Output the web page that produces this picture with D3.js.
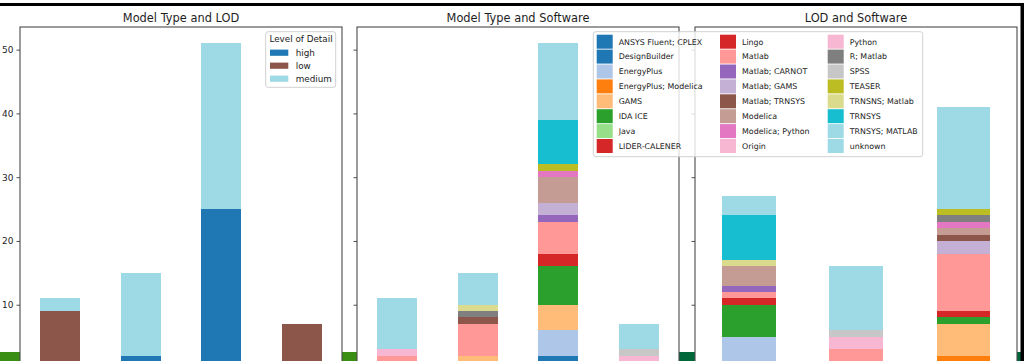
<!DOCTYPE html>
<html>
<head>
<meta charset="utf-8">
<script src="https://cdn.jsdelivr.net/npm/d3@7"></script>
<style>
  html, body { margin: 0; padding: 0; background: #fff; }
  svg { display: block; font-family: "DejaVu Sans", sans-serif; }
</style>
</head>
<body>
<svg id="chart" width="1024" height="361"></svg>
<script>
// ---- data ----
const modelTypes = ["data-driven", "grey-box", "physics-based", "statistical"];
const lodLevels = ["high", "low", "medium"];

// level of detail counts per model type
const lodHigh   = [0, 2, 25, 0];
const lodLow    = [9, 0, 0, 7];
const lodMedium = [2, 13, 26, 0];

const softwareNames = [
  "ANSYS Fluent; CPLEX", "DesignBuilder", "EnergyPlus", "EnergyPlus; Modelica",
  "GAMS", "IDA ICE", "Java", "LIDER-CALENER",
  "Lingo", "Matlab", "Matlab; CARNOT", "Matlab; GAMS",
  "Matlab; TRNSYS", "Modelica", "Modelica; Python", "Origin",
  "Python", "R; Matlab", "SPSS", "TEASER",
  "TRNSNS; Matlab", "TRNSYS", "TRNSYS; MATLAB", "unknown"
];

// software counts per model type (same order as softwareNames)
const swDataDriven   = [0,0,0,0, 0,0,1,0, 0,1,0,0, 0,0,0,1, 0,0,0,0, 0,0,0,8];
const swGreyBox      = [0,0,0,1, 1,0,0,0, 0,5,0,0, 1,0,0,0, 0,1,0,0, 1,0,1,4];
const swPhysicsBased = [1,1,4,0, 4,6,0,1, 1,5,1,2, 0,4,1,0, 0,0,0,1, 0,7,0,12];
const swStatistical  = [0,0,0,0, 0,0,0,0, 0,1,0,0, 0,0,0,0, 1,0,1,0, 0,0,0,4];

// software counts per level of detail (same order as softwareNames)
const swHigh   = [0,1,4,0, 0,5,0,1, 0,1,1,0, 0,3,0,0, 0,0,0,0, 1,7,0,3];
const swLow    = [0,0,0,0, 0,0,1,0, 0,2,0,0, 0,0,0,1, 1,0,1,0, 0,0,0,10];
const swMedium = [1,0,0,1, 5,1,0,0, 1,9,0,2, 1,1,1,0, 0,1,0,1, 0,0,1,15];

const yTicks = [10, 20, 30, 40, 50];

// ---- palette (tab20, sampled evenly like a listed colormap) ----
const tab20 = ["#1f77b4","#aec7e8","#ff7f0e","#ffbb78","#2ca02c","#98df8a","#d62728","#ff9896",
               "#9467bd","#c5b0d5","#8c564b","#c49c94","#e377c2","#f7b6d2","#7f7f7f","#c7c7c7",
               "#bcbd22","#dbdb8d","#17becf","#9edae5"];
const sampleTab20 = n => d3.range(n).map(i => tab20[Math.min(19, Math.floor(i / (n - 1) * 20))]);
const lodColor = d3.scaleOrdinal(lodLevels, sampleTab20(lodLevels.length));
const swColor = d3.scaleOrdinal(softwareNames, sampleTab20(softwareNames.length));

// ---- layout ----
const svg = d3.select("#chart");
const W = 1024, H = 361;
const plotTop = 27, plotBottom = 368.5;
const panels = [
  { x0: 20,  x1: 342,  title: "Model Type and LOD" },
  { x0: 357, x1: 679,  title: "Model Type and Software" },
  { x0: 695, x1: 1017, title: "LOD and Software" }
];
const y = d3.scaleLinear().domain([0, 51 * 1.05]).range([plotBottom, plotTop]);

svg.append("rect").attr("width", W).attr("height", H).attr("fill", "#fff");

// strips of the page background showing between the panels
const stripY = 352;
[[0, 20, "#3b8e14"], [342, 357, "#3b8e14"], [679, 695, "#00673a"], [1017, 1021, "#00673a"]]
  .forEach(([a, b, c]) => svg.append("rect").attr("x", a).attr("y", stripY)
    .attr("width", b - a).attr("height", H - stripY).attr("fill", c));

function rowsFrom(cats, keys, columns) {
  return cats.map((c, i) => {
    const row = { cat: c };
    keys.forEach((k, j) => row[k] = columns[j][i]);
    return row;
  });
}
function columnsFromCounts(countArrays) {
  // transpose: countArrays[category][key] -> columns[key][category]
  return softwareNames.map((_, k) => countArrays.map(arr => arr[k]));
}

function drawStacked(p, cats, keys, rows, color) {
  const x = d3.scaleBand().domain(cats).range([p.x0, p.x1])
    .paddingInner(0.5).paddingOuter(0.25);
  const series = d3.stack().keys(keys)(rows);
  const g = svg.append("g").attr("shape-rendering", "crispEdges");
  series.forEach(s => {
    g.selectAll(null).data(s.filter(d => d[1] > d[0])).enter().append("rect")
      .attr("x", d => x(d.data.cat))
      .attr("width", x.bandwidth())
      .attr("y", d => y(d[1]))
      .attr("height", d => y(d[0]) - y(d[1]))
      .attr("fill", color(s.key));
  });
}

// panel 1: model type by LOD
drawStacked(panels[0], modelTypes, lodLevels,
  rowsFrom(modelTypes, lodLevels, [lodHigh, lodLow, lodMedium]), lodColor);

// panel 2: model type by software
drawStacked(panels[1], modelTypes, softwareNames,
  rowsFrom(modelTypes, softwareNames, columnsFromCounts([swDataDriven, swGreyBox, swPhysicsBased, swStatistical])), swColor);

// panel 3: LOD by software
drawStacked(panels[2], lodLevels, softwareNames,
  rowsFrom(lodLevels, softwareNames, columnsFromCounts([swHigh, swLow, swMedium])), swColor);

// axes, frames and titles
panels.forEach((p, i) => {
  const axis = d3.axisLeft(y).tickValues(yTicks).tickSize(3.5).tickPadding(3);
  if (i > 0) axis.tickFormat("");
  const ag = svg.append("g").attr("transform", `translate(${p.x0},0)`).call(axis);
  ag.select(".domain").remove();
  ag.selectAll(".tick line").attr("stroke", "#3a3a3a").attr("stroke-width", 0.9);
  ag.selectAll(".tick text").attr("fill", "#262626").attr("font-size", 9)
    .attr("font-family", "DejaVu Sans");

  svg.append("rect").attr("x", p.x0).attr("y", plotTop)
    .attr("width", p.x1 - p.x0).attr("height", plotBottom - plotTop)
    .attr("fill", "none").attr("stroke", "#4a4a4a").attr("stroke-width", 1.1);

  svg.append("text").attr("x", (p.x0 + p.x1) / 2).attr("y", 21.6)
    .attr("text-anchor", "middle").attr("font-size", 11.4).attr("fill", "#1e1e1e")
    .text(p.title);
});

// legend: level of detail
{
  const lg = svg.append("g");
  lg.append("rect").attr("x", 265.7).attr("y", 31.7).attr("width", 70).attr("height", 55.6)
    .attr("rx", 2.5).attr("fill", "#fff").attr("fill-opacity", 0.8)
    .attr("stroke", "#cccccc").attr("stroke-width", 0.9);
  lg.append("text").attr("x", 301).attr("y", 42.4).attr("text-anchor", "middle")
    .attr("font-size", 8.8).attr("fill", "#222").text("Level of Detail");
  lodLevels.forEach((k, i) => {
    const cy = 52.7 + i * 13;
    lg.append("rect").attr("x", 270).attr("y", cy - 3.1).attr("width", 18.3).attr("height", 6.2)
      .attr("fill", lodColor(k));
    lg.append("text").attr("x", 295.7).attr("y", cy + 3.1).attr("font-size", 8.8)
      .attr("fill", "#222").text(k);
  });
}

// legend: software
{
  const lg = svg.append("g");
  lg.append("rect").attr("x", 593.3).attr("y", 31.7).attr("width", 329.4).attr("height", 125)
    .attr("rx", 2.5).attr("fill", "#fff").attr("fill-opacity", 0.8)
    .attr("stroke", "#cccccc").attr("stroke-width", 0.9);
  const colX = [596.7, 720, 827.7];
  softwareNames.forEach((k, i) => {
    const c = Math.floor(i / 8), r = i % 8;
    const cy = 41.7 + r * 14.9;
    lg.append("rect").attr("x", colX[c]).attr("y", cy - 7).attr("width", 16).attr("height", 14)
      .attr("fill", swColor(k));
    lg.append("text").attr("x", colX[c] + 22).attr("y", cy + 2.8).attr("font-size", 7.9)
      .attr("fill", "#222").text(k);
  });
}

// page edges
svg.append("rect").attr("x", 0).attr("y", 3).attr("width", W).attr("height", 3).attr("fill", "#000");
svg.append("rect").attr("x", 1020.5).attr("y", 3).attr("width", 3.5).attr("height", H - 3).attr("fill", "#000");
</script>
</body>
</html>
